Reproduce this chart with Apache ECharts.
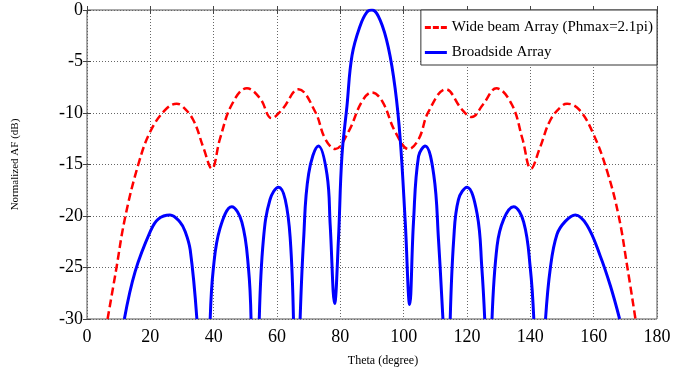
<!DOCTYPE html>
<html lang="en">
<head>
<meta charset="UTF-8">
<title>AF</title>
<style>
  html, body { margin: 0; padding: 0; background: #fff; }
  #af { width: 675px; height: 370px; }
</style>
<script src="https://cdn.jsdelivr.net/npm/echarts@6/dist/echarts.min.js"></script>
</head>
<body>
<div id="af"></div>
<script>
// values (theta in degrees, AF in dB)
var wideTheta = [6.5, 9.1, 12, 16.2, 20, 24.7, 28.3, 30, 33.6, 36.8, 39.4, 42, 45.7, 50.5, 54.7, 58.3, 61.5, 66.8, 72.1, 75.2, 78.4, 82.6, 86.8, 90,
                 93.3, 97.3, 101.6, 104.8, 107.8, 113.3, 118.5, 121.5, 125, 129.3, 134.2, 137.5, 140.2, 143, 146.3, 150, 151.6, 155.5, 160, 164.3, 167.9, 170.6, 173.2];
var wideDb = [-30, -25.4, -20.2, -15, -11.8, -9.7, -9.1, -9.3, -10.7, -13.4, -15.4, -12.5, -9.2, -7.6, -8.6, -10.5, -9.7, -7.7, -9.9, -12.5, -13.5, -11.8, -8.9, -8.0,
              -8.9, -11.8, -13.5, -12.5, -9.9, -7.7, -9.7, -10.4, -9.2, -7.6, -9.2, -12.5, -15.4, -13.4, -10.7, -9.3, -9.1, -9.7, -12.1, -15.7, -20.0, -24.9, -30];

// '-' marks where the broadside pattern drops below -30 dB
var broadTheta = [11.8, 15.2, 20, 22.5, 26.2, 29.4, 31, 32.6, 34.7, 36.3,
                  38.9, 39.9, 42, 45.7, 48.9, 51, 51.8, 53.1,
                  54.4, 55.7, 57.8, 60.5, 62.6, 64.2, 65.2, 66.3,
                  67.3, 68.4, 70, 73.1, 75.8, 76.8, 78.2, 79.4, 80.5, 82.1, 83.7, 86.3, 88.4, 90,
                  92.6, 95.2, 97.3, 98.9, 100.5, 101.9, 103.1, 104.7, 106.8, 109.5, 111, 112.4, 113.6,
                  114.7, 115.8, 117.3, 120, 123.2, 124.7, 125.6, 126.8,
                  127.9, 129.5, 131.6, 134.7, 137.9, 140, 141.1, 143,
                  144.8, 146.3, 148.4, 151.1, 154.2, 157.9, 162.1, 165.3, 168.2];
var broadDb = [-30, -25.4, -21.5, -20.3, -19.9, -20.6, -21.5, -23.3, -30, '-',
               -30, -25.1, -21.2, -19.1, -20.6, -25.1, -30, '-',
               -30, -22.3, -18.4, -17.2, -18.4, -22.3, -30, '-',
               -30, -22.3, -15.9, -13.2, -16.0, -20.9, -28.5, -22.3, -14.2, -9.3, -4.4, -1.5, -0.2, 0,
               -1.0, -3.7, -7.6, -12.5, -20.6, -28.6, -20.6, -14.2, -13.2, -16.0, -22.3, -30, '-',
               -30, -22.3, -18.4, -17.2, -19.8, -25.1, -30, '-',
               -30, -22.9, -20.3, -19.1, -20.6, -25.1, -30, '-',
               -30, -25.1, -21.8, -20.5, -19.9, -20.9, -23.9, -26.8, -30];

function pairs(xs, ys) {
    var out = [];
    for (var i = 0; i < xs.length; i++) out.push([xs[i], ys[i]]);
    return out;
}

var serif = 'Liberation Serif';
var myChart = echarts.init(document.getElementById('af'));

var tickStyle = { show: true, inside: true, length: 4, lineStyle: { color: '#444' } };
var gridLine = { show: true, lineStyle: { color: '#666', type: [1, 2], width: 1 } };

var option = {
    animation: false,
    backgroundColor: '#fff',
    grid: {
        left: 87, right: 18, top: 10, bottom: 51,
        outerBoundsMode: 'none',
        show: true, borderColor: '#555', borderWidth: 1
    },
    legend: {
        right: 18,
        top: 10,
        orient: 'vertical',
        backgroundColor: '#fff',
        borderColor: '#333',
        borderWidth: 1,
        borderRadius: 0,
        padding: [10, 4, 5, 4],
        itemWidth: 22,
        itemHeight: 3,
        itemGap: 10,
        itemTextGap: 3,
        textStyle: { fontFamily: serif, fontSize: 15, color: '#000' },
        data: [{
            name: 'Wide beam Array (Phmax=2.1pi)',
            icon: 'path://M0,0h6v3h-6z M8,0h6v3h-6z M16,0h6v3h-6z',
            itemStyle: { color: '#ff0000' }
        }, {
            name: 'Broadside Array',
            icon: 'rect',
            itemStyle: { color: '#0000ff' }
        }]
    },
    xAxis: [{
        type: 'value',
        min: 0, max: 180, interval: 20,
        name: 'Theta (degree)',
        nameLocation: 'middle',
        nameGap: 36,
        nameTextStyle: { fontFamily: serif, fontSize: 12, color: '#000', padding: [0, 0, 0, 22] },
        axisLine: { show: false },
        axisTick: tickStyle,
        axisLabel: { fontFamily: serif, fontSize: 18, color: '#000', margin: 9 },
        splitLine: gridLine
    }, {
        type: 'value',
        position: 'top',
        min: 0, max: 180, interval: 20,
        axisLine: { show: false },
        axisTick: tickStyle,
        axisLabel: { show: false },
        splitLine: { show: false }
    }],
    yAxis: [{
        type: 'value',
        min: -30, max: 0, interval: 5,
        name: 'Normalized AF (dB)',
        nameLocation: 'middle',
        nameGap: 66,
        nameTextStyle: { fontFamily: serif, fontSize: 11, color: '#000' },
        axisLine: { show: false },
        axisTick: tickStyle,
        axisLabel: { fontFamily: serif, fontSize: 18, color: '#000', margin: 4 },
        splitLine: gridLine
    }, {
        type: 'value',
        position: 'right',
        min: -30, max: 0, interval: 5,
        axisLine: { show: false },
        axisTick: tickStyle,
        axisLabel: { show: false },
        splitLine: { show: false }
    }],
    series: [{
        name: 'Wide beam Array (Phmax=2.1pi)',
        type: 'line',
        smooth: 0.4,
        showSymbol: false,
        symbol: 'none',
        lineStyle: { color: '#ff0000', width: 2.5, type: [8, 4] },
        itemStyle: { color: '#ff0000' },
        data: pairs(wideTheta, wideDb)
    }, {
        name: 'Broadside Array',
        type: 'line',
        smooth: 0.4,
        showSymbol: false,
        symbol: 'none',
        connectNulls: false,
        lineStyle: { color: '#0000ff', width: 3 },
        itemStyle: { color: '#0000ff' },
        data: pairs(broadTheta, broadDb)
    }]
};
myChart.setOption(option);
</script>
</body>
</html>
